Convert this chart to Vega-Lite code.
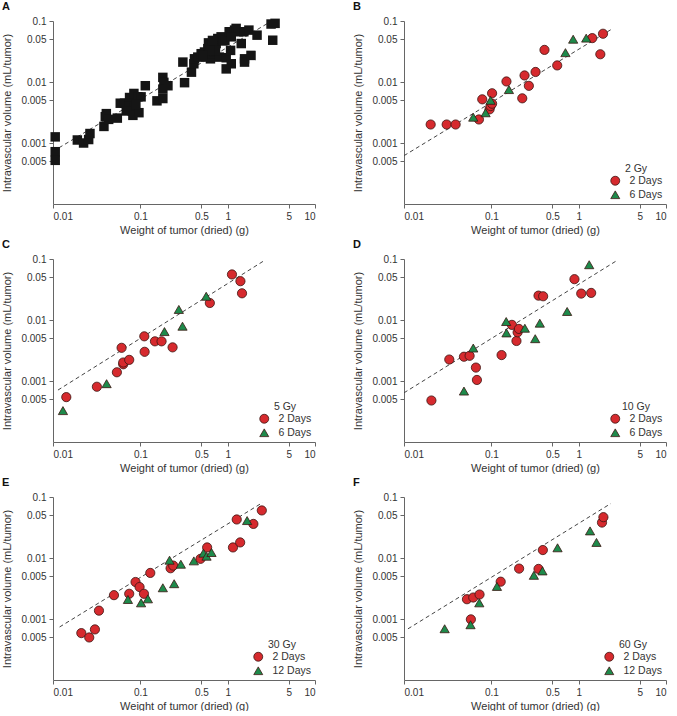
{
  "$schema": "https://vega.github.io/schema/vega-lite/v6.json",
  "padding": {"left": 1, "top": 1, "right": 0, "bottom": 0},
  "background": "white",
  "datasets": {
    "pts": [
      {"panel":"A","group":"all","x":0.0106,"y":0.00126},{"panel":"A","group":"all","x":0.0106,"y":0.00072},{"panel":"A","group":"all","x":0.0106,"y":0.00052},
      {"panel":"A","group":"all","x":0.019,"y":0.00112},{"panel":"A","group":"all","x":0.0224,"y":0.001},{"panel":"A","group":"all","x":0.0256,"y":0.00114},
      {"panel":"A","group":"all","x":0.0265,"y":0.00143},{"panel":"A","group":"all","x":0.0383,"y":0.00187},{"panel":"A","group":"all","x":0.0397,"y":0.0027},
      {"panel":"A","group":"all","x":0.0408,"y":0.00303},{"panel":"A","group":"all","x":0.0434,"y":0.00244},{"panel":"A","group":"all","x":0.0545,"y":0.00256},
      {"panel":"A","group":"all","x":0.0589,"y":0.00449},{"panel":"A","group":"all","x":0.066,"y":0.0045},{"panel":"A","group":"all","x":0.0753,"y":0.00557},
      {"panel":"A","group":"all","x":0.0844,"y":0.00649},{"panel":"A","group":"all","x":0.0938,"y":0.00571},{"panel":"A","group":"all","x":0.102,"y":0.00571},
      {"panel":"A","group":"all","x":0.074,"y":0.00405},{"panel":"A","group":"all","x":0.0807,"y":0.00335},{"panel":"A","group":"all","x":0.0859,"y":0.00371},
      {"panel":"A","group":"all","x":0.0822,"y":0.00284},{"panel":"A","group":"all","x":0.0964,"y":0.00314},{"panel":"A","group":"all","x":0.0889,"y":0.00431},
      {"panel":"A","group":"all","x":0.069,"y":0.00335},{"panel":"A","group":"all","x":0.114,"y":0.00869},{"panel":"A","group":"all","x":0.155,"y":0.00491},
      {"panel":"A","group":"all","x":0.181,"y":0.00536},{"panel":"A","group":"all","x":0.181,"y":0.0119},{"panel":"A","group":"all","x":0.186,"y":0.00986},
      {"panel":"A","group":"all","x":0.181,"y":0.00765},{"panel":"A","group":"all","x":0.207,"y":0.00869},{"panel":"A","group":"all","x":0.307,"y":0.0212},
      {"panel":"A","group":"all","x":0.321,"y":0.00975},{"panel":"A","group":"all","x":0.385,"y":0.0145},{"panel":"A","group":"all","x":0.41,"y":0.0199},
      {"panel":"A","group":"all","x":0.417,"y":0.024},{"panel":"A","group":"all","x":0.455,"y":0.0256},{"panel":"A","group":"all","x":0.497,"y":0.0291},
      {"panel":"A","group":"all","x":0.543,"y":0.031},{"panel":"A","group":"all","x":0.567,"y":0.0256},{"panel":"A","group":"all","x":0.593,"y":0.0352},
      {"panel":"A","group":"all","x":0.603,"y":0.0438},{"panel":"A","group":"all","x":0.635,"y":0.024},{"panel":"A","group":"all","x":0.659,"y":0.0291},
      {"panel":"A","group":"all","x":0.694,"y":0.0376},{"panel":"A","group":"all","x":0.70,"y":0.031},{"panel":"A","group":"all","x":0.738,"y":0.0427},
      {"panel":"A","group":"all","x":0.771,"y":0.0516},{"panel":"A","group":"all","x":0.805,"y":0.0256},{"panel":"A","group":"all","x":0.841,"y":0.055},
      {"panel":"A","group":"all","x":0.879,"y":0.0472},{"panel":"A","group":"all","x":0.93,"y":0.048},{"panel":"A","group":"all","x":0.725,"y":0.033},
      {"panel":"A","group":"all","x":0.67,"y":0.048},{"panel":"A","group":"all","x":0.62,"y":0.033},{"panel":"A","group":"all","x":0.52,"y":0.027},
      {"panel":"A","group":"all","x":0.962,"y":0.025},{"panel":"A","group":"all","x":0.962,"y":0.0164},{"panel":"A","group":"all","x":1.08,"y":0.033},
      {"panel":"A","group":"all","x":1.1,"y":0.0199},{"panel":"A","group":"all","x":1.04,"y":0.0666},{"panel":"A","group":"all","x":1.2,"y":0.0709},
      {"panel":"A","group":"all","x":1.25,"y":0.0756},{"panel":"A","group":"all","x":1.33,"y":0.0666},{"panel":"A","group":"all","x":1.43,"y":0.0427},
      {"panel":"A","group":"all","x":1.53,"y":0.0666},{"panel":"A","group":"all","x":1.56,"y":0.024},{"panel":"A","group":"all","x":1.56,"y":0.0212},
      {"panel":"A","group":"all","x":1.75,"y":0.0709},{"panel":"A","group":"all","x":1.85,"y":0.0273},{"panel":"A","group":"all","x":2.17,"y":0.0586},
      {"panel":"A","group":"all","x":3.14,"y":0.0892},{"panel":"A","group":"all","x":3.49,"y":0.0915},{"panel":"A","group":"all","x":3.28,"y":0.0484},
      {"panel":"A","group":"all","x":1.1,"y":0.055},

      {"panel":"B","group":"2 Days","x":0.0202,"y":0.00201},{"panel":"B","group":"2 Days","x":0.0308,"y":0.00201},{"panel":"B","group":"2 Days","x":0.039,"y":0.00201},
      {"panel":"B","group":"2 Days","x":0.0721,"y":0.00243},{"panel":"B","group":"2 Days","x":0.0787,"y":0.0052},{"panel":"B","group":"2 Days","x":0.0955,"y":0.00356},
      {"panel":"B","group":"2 Days","x":0.098,"y":0.00404},{"panel":"B","group":"2 Days","x":0.102,"y":0.00441},{"panel":"B","group":"2 Days","x":0.102,"y":0.00654},
      {"panel":"B","group":"2 Days","x":0.149,"y":0.0102},{"panel":"B","group":"2 Days","x":0.226,"y":0.0054},{"panel":"B","group":"2 Days","x":0.24,"y":0.0128},
      {"panel":"B","group":"2 Days","x":0.269,"y":0.00865},{"panel":"B","group":"2 Days","x":0.321,"y":0.0146},{"panel":"B","group":"2 Days","x":0.406,"y":0.0336},
      {"panel":"B","group":"2 Days","x":0.568,"y":0.0187},{"panel":"B","group":"2 Days","x":1.43,"y":0.0524},{"panel":"B","group":"2 Days","x":1.77,"y":0.0285},
      {"panel":"B","group":"2 Days","x":1.9,"y":0.0618},
      {"panel":"B","group":"6 Days","x":0.0621,"y":0.00265},{"panel":"B","group":"6 Days","x":0.0859,"y":0.00313},{"panel":"B","group":"6 Days","x":0.098,"y":0.00501},
      {"panel":"B","group":"6 Days","x":0.159,"y":0.00751},{"panel":"B","group":"6 Days","x":0.706,"y":0.0303},{"panel":"B","group":"6 Days","x":0.865,"y":0.0503},
      {"panel":"B","group":"6 Days","x":1.22,"y":0.0524},

      {"panel":"C","group":"2 Days","x":0.0142,"y":0.000544},{"panel":"C","group":"2 Days","x":0.0318,"y":0.000805},{"panel":"C","group":"2 Days","x":0.0539,"y":0.00139},
      {"panel":"C","group":"2 Days","x":0.061,"y":0.0035},{"panel":"C","group":"2 Days","x":0.0637,"y":0.00188},{"panel":"C","group":"2 Days","x":0.0637,"y":0.00201},
      {"panel":"C","group":"2 Days","x":0.0746,"y":0.00222},{"panel":"C","group":"2 Days","x":0.111,"y":0.0054},{"panel":"C","group":"2 Days","x":0.112,"y":0.00301},
      {"panel":"C","group":"2 Days","x":0.147,"y":0.00447},{"panel":"C","group":"2 Days","x":0.175,"y":0.00447},{"panel":"C","group":"2 Days","x":0.234,"y":0.00356},
      {"panel":"C","group":"2 Days","x":0.625,"y":0.019},{"panel":"C","group":"2 Days","x":1.12,"y":0.0558},{"panel":"C","group":"2 Days","x":1.4,"y":0.0433},
      {"panel":"C","group":"2 Days","x":1.46,"y":0.0274},
      {"panel":"C","group":"6 Days","x":0.013,"y":0.000327},{"panel":"C","group":"6 Days","x":0.0411,"y":0.000904},{"panel":"C","group":"6 Days","x":0.189,"y":0.00646},
      {"panel":"C","group":"6 Days","x":0.276,"y":0.0149},{"panel":"C","group":"6 Days","x":0.304,"y":0.00791},{"panel":"C","group":"6 Days","x":0.568,"y":0.0245},

      {"panel":"D","group":"2 Days","x":0.0206,"y":0.000479},{"panel":"D","group":"2 Days","x":0.033,"y":0.00225},{"panel":"D","group":"2 Days","x":0.0486,"y":0.0025},
      {"panel":"D","group":"2 Days","x":0.0564,"y":0.00259},{"panel":"D","group":"2 Days","x":0.0666,"y":0.00166},{"panel":"D","group":"2 Days","x":0.0684,"y":0.00104},
      {"panel":"D","group":"2 Days","x":0.131,"y":0.00266},{"panel":"D","group":"2 Days","x":0.172,"y":0.00832},{"panel":"D","group":"2 Days","x":0.194,"y":0.00453},
      {"panel":"D","group":"2 Days","x":0.2,"y":0.00629},{"panel":"D","group":"2 Days","x":0.207,"y":0.00714},{"panel":"D","group":"2 Days","x":0.347,"y":0.0251},
      {"panel":"D","group":"2 Days","x":0.392,"y":0.0245},{"panel":"D","group":"2 Days","x":0.895,"y":0.0467},{"panel":"D","group":"2 Days","x":1.07,"y":0.0271},
      {"panel":"D","group":"2 Days","x":1.39,"y":0.0278},
      {"panel":"D","group":"6 Days","x":0.0486,"y":0.000684},{"panel":"D","group":"6 Days","x":0.0621,"y":0.00347},{"panel":"D","group":"6 Days","x":0.148,"y":0.00944},
      {"panel":"D","group":"6 Days","x":0.149,"y":0.00614},{"panel":"D","group":"6 Days","x":0.242,"y":0.00733},{"panel":"D","group":"6 Days","x":0.318,"y":0.00494},
      {"panel":"D","group":"6 Days","x":0.359,"y":0.00887},{"panel":"D","group":"6 Days","x":0.738,"y":0.0138},{"panel":"D","group":"6 Days","x":1.32,"y":0.0806},

      {"panel":"E","group":"2 Days","x":0.0211,"y":0.000587},{"panel":"E","group":"2 Days","x":0.026,"y":0.000498},{"panel":"E","group":"2 Days","x":0.0302,"y":0.000675},
      {"panel":"E","group":"2 Days","x":0.0336,"y":0.00137},{"panel":"E","group":"2 Days","x":0.0499,"y":0.00246},{"panel":"E","group":"2 Days","x":0.0746,"y":0.00259},
      {"panel":"E","group":"2 Days","x":0.0881,"y":0.00404},{"panel":"E","group":"2 Days","x":0.098,"y":0.00334},{"panel":"E","group":"2 Days","x":0.11,"y":0.00259},
      {"panel":"E","group":"2 Days","x":0.13,"y":0.00569},{"panel":"E","group":"2 Days","x":0.222,"y":0.00679},{"panel":"E","group":"2 Days","x":0.238,"y":0.00751},
      {"panel":"E","group":"2 Days","x":0.489,"y":0.00969},{"panel":"E","group":"2 Days","x":0.582,"y":0.0149},{"panel":"E","group":"2 Days","x":1.15,"y":0.0149},
      {"panel":"E","group":"2 Days","x":1.27,"y":0.0428},{"panel":"E","group":"2 Days","x":1.39,"y":0.018},{"panel":"E","group":"2 Days","x":1.97,"y":0.0362},
      {"panel":"E","group":"2 Days","x":2.46,"y":0.0602},
      {"panel":"E","group":"12 Days","x":0.0721,"y":0.00209},{"panel":"E","group":"12 Days","x":0.102,"y":0.00184},{"panel":"E","group":"12 Days","x":0.122,"y":0.00214},
      {"panel":"E","group":"12 Days","x":0.181,"y":0.00325},{"panel":"E","group":"12 Days","x":0.216,"y":0.0092},{"panel":"E","group":"12 Days","x":0.244,"y":0.00379},
      {"panel":"E","group":"12 Days","x":0.291,"y":0.00791},{"panel":"E","group":"12 Days","x":0.41,"y":0.00897},{"panel":"E","group":"12 Days","x":0.528,"y":0.012},
      {"panel":"E","group":"12 Days","x":0.573,"y":0.0107},{"panel":"E","group":"12 Days","x":0.653,"y":0.0123},{"panel":"E","group":"12 Days","x":1.67,"y":0.0411},

      {"panel":"F","group":"2 Days","x":0.0526,"y":0.00211},{"panel":"F","group":"2 Days","x":0.0621,"y":0.00225},{"panel":"F","group":"2 Days","x":0.0733,"y":0.00252},
      {"panel":"F","group":"2 Days","x":0.0583,"y":0.000986},{"panel":"F","group":"2 Days","x":0.128,"y":0.00409},{"panel":"F","group":"2 Days","x":0.208,"y":0.0067},
      {"panel":"F","group":"2 Days","x":0.347,"y":0.00662},{"panel":"F","group":"2 Days","x":0.389,"y":0.0135},{"panel":"F","group":"2 Days","x":1.85,"y":0.0381},
      {"panel":"F","group":"2 Days","x":1.92,"y":0.0467},
      {"panel":"F","group":"12 Days","x":0.0292,"y":0.000692},{"panel":"F","group":"12 Days","x":0.0578,"y":0.000805},{"panel":"F","group":"12 Days","x":0.0728,"y":0.00184},
      {"panel":"F","group":"12 Days","x":0.116,"y":0.00342},{"panel":"F","group":"12 Days","x":0.307,"y":0.0052},{"panel":"F","group":"12 Days","x":0.385,"y":0.00614},
      {"panel":"F","group":"12 Days","x":0.573,"y":0.0147},{"panel":"F","group":"12 Days","x":1.35,"y":0.0278},{"panel":"F","group":"12 Days","x":1.6,"y":0.018}
    ],
    "fit": [
      {"panel":"A","x":0.01,"y":0.00073},{"panel":"A","x":3.0,"y":0.095},
      {"panel":"B","x":0.01,"y":0.00062},{"panel":"B","x":2.43,"y":0.0746},
      {"panel":"C","x":0.0114,"y":0.00071},{"panel":"C","x":2.62,"y":0.094},
      {"panel":"D","x":0.01,"y":0.00064},{"panel":"D","x":2.73,"y":0.094},
      {"panel":"E","x":0.0119,"y":0.00074},{"panel":"E","x":2.51,"y":0.081},
      {"panel":"F","x":0.0111,"y":0.00069},{"panel":"F","x":2.33,"y":0.078}
    ]
  },
  "columns": 2,
  "spacing": {"row": 4, "column": 36},
  "resolve": {"scale": {"fill": "independent", "shape": "independent"}, "legend": {"fill": "independent", "shape": "independent"}},
  "concat": [
    {
      "width": 262, "height": 183,
      "title": {"text": "A"},
      "layer": [
        {"data": {"name": "fit"}, "transform": [{"filter": "datum.panel == 'A'"}],
         "mark": {"type": "line", "strokeDash": [4, 3], "color": "#444", "strokeWidth": 1},
         "encoding": {
           "x": {"field": "x", "type": "quantitative", "scale": {"type": "log", "domain": [0.01, 10], "nice": false}, "axis": {"values": [0.01, 0.1, 0.5, 1, 5, 10], "format": "~g", "title": "Weight of tumor (dried) (g)"}},
           "y": {"field": "y", "type": "quantitative", "scale": {"type": "log", "domain": [0.0001, 0.1], "nice": false}, "axis": {"values": [0.0005, 0.001, 0.005, 0.01, 0.05, 0.1], "labelExpr": "datum.value < 0.0007 ? '0.005' : format(datum.value, '~g')", "title": "Intravascular volume (mL/tumor)"}}
         }},
        {"data": {"name": "pts"}, "transform": [{"filter": "datum.panel == 'A'"}],
         "mark": {"type": "square", "filled": true, "color": "#151515", "size": 90, "opacity": 1},
         "encoding": {
           "x": {"field": "x", "type": "quantitative"},
           "y": {"field": "y", "type": "quantitative"}
         }}
      ]
    },
    {
      "width": 262, "height": 183,
      "title": {"text": "B"},
      "layer": [
        {"data": {"name": "fit"}, "transform": [{"filter": "datum.panel == 'B'"}],
         "mark": {"type": "line", "strokeDash": [4, 3], "color": "#444", "strokeWidth": 1},
         "encoding": {
           "x": {"field": "x", "type": "quantitative", "scale": {"type": "log", "domain": [0.01, 10], "nice": false}, "axis": {"values": [0.01, 0.1, 0.5, 1, 5, 10], "format": "~g", "title": "Weight of tumor (dried) (g)"}},
           "y": {"field": "y", "type": "quantitative", "scale": {"type": "log", "domain": [0.0001, 0.1], "nice": false}, "axis": {"values": [0.0005, 0.001, 0.005, 0.01, 0.05, 0.1], "labelExpr": "datum.value < 0.0007 ? '0.005' : format(datum.value, '~g')", "title": "Intravascular volume (mL/tumor)"}}
         }},
        {"data": {"name": "pts"}, "transform": [{"filter": "datum.panel == 'B'"}],
         "mark": {"type": "point", "filled": true, "stroke": "#3b1512", "strokeWidth": 0.8, "size": 85, "opacity": 1},
         "encoding": {
           "x": {"field": "x", "type": "quantitative"},
           "y": {"field": "y", "type": "quantitative"},
           "fill": {"field": "group", "type": "nominal", "scale": {"domain": ["2 Days", "6 Days"], "range": ["#d62a2e", "#1e8a4b"]}, "legend": {"title": "2 Gy"}},
           "shape": {"field": "group", "type": "nominal", "scale": {"domain": ["2 Days", "6 Days"], "range": ["circle", "triangle-up"]}, "legend": {"title": "2 Gy"}}
         }}
      ]
    },
    {
      "width": 262, "height": 183,
      "title": {"text": "C"},
      "layer": [
        {"data": {"name": "fit"}, "transform": [{"filter": "datum.panel == 'C'"}],
         "mark": {"type": "line", "strokeDash": [4, 3], "color": "#444", "strokeWidth": 1},
         "encoding": {
           "x": {"field": "x", "type": "quantitative", "scale": {"type": "log", "domain": [0.01, 10], "nice": false}, "axis": {"values": [0.01, 0.1, 0.5, 1, 5, 10], "format": "~g", "title": "Weight of tumor (dried) (g)"}},
           "y": {"field": "y", "type": "quantitative", "scale": {"type": "log", "domain": [0.0001, 0.1], "nice": false}, "axis": {"values": [0.0005, 0.001, 0.005, 0.01, 0.05, 0.1], "labelExpr": "datum.value < 0.0007 ? '0.005' : format(datum.value, '~g')", "title": "Intravascular volume (mL/tumor)"}}
         }},
        {"data": {"name": "pts"}, "transform": [{"filter": "datum.panel == 'C'"}],
         "mark": {"type": "point", "filled": true, "stroke": "#3b1512", "strokeWidth": 0.8, "size": 85, "opacity": 1},
         "encoding": {
           "x": {"field": "x", "type": "quantitative"},
           "y": {"field": "y", "type": "quantitative"},
           "fill": {"field": "group", "type": "nominal", "scale": {"domain": ["2 Days", "6 Days"], "range": ["#d62a2e", "#1e8a4b"]}, "legend": {"title": "5 Gy"}},
           "shape": {"field": "group", "type": "nominal", "scale": {"domain": ["2 Days", "6 Days"], "range": ["circle", "triangle-up"]}, "legend": {"title": "5 Gy"}}
         }}
      ]
    },
    {
      "width": 262, "height": 183,
      "title": {"text": "D"},
      "layer": [
        {"data": {"name": "fit"}, "transform": [{"filter": "datum.panel == 'D'"}],
         "mark": {"type": "line", "strokeDash": [4, 3], "color": "#444", "strokeWidth": 1},
         "encoding": {
           "x": {"field": "x", "type": "quantitative", "scale": {"type": "log", "domain": [0.01, 10], "nice": false}, "axis": {"values": [0.01, 0.1, 0.5, 1, 5, 10], "format": "~g", "title": "Weight of tumor (dried) (g)"}},
           "y": {"field": "y", "type": "quantitative", "scale": {"type": "log", "domain": [0.0001, 0.1], "nice": false}, "axis": {"values": [0.0005, 0.001, 0.005, 0.01, 0.05, 0.1], "labelExpr": "datum.value < 0.0007 ? '0.005' : format(datum.value, '~g')", "title": "Intravascular volume (mL/tumor)"}}
         }},
        {"data": {"name": "pts"}, "transform": [{"filter": "datum.panel == 'D'"}],
         "mark": {"type": "point", "filled": true, "stroke": "#3b1512", "strokeWidth": 0.8, "size": 85, "opacity": 1},
         "encoding": {
           "x": {"field": "x", "type": "quantitative"},
           "y": {"field": "y", "type": "quantitative"},
           "fill": {"field": "group", "type": "nominal", "scale": {"domain": ["2 Days", "6 Days"], "range": ["#d62a2e", "#1e8a4b"]}, "legend": {"title": "10 Gy"}},
           "shape": {"field": "group", "type": "nominal", "scale": {"domain": ["2 Days", "6 Days"], "range": ["circle", "triangle-up"]}, "legend": {"title": "10 Gy"}}
         }}
      ]
    },
    {
      "width": 262, "height": 183,
      "title": {"text": "E"},
      "layer": [
        {"data": {"name": "fit"}, "transform": [{"filter": "datum.panel == 'E'"}],
         "mark": {"type": "line", "strokeDash": [4, 3], "color": "#444", "strokeWidth": 1},
         "encoding": {
           "x": {"field": "x", "type": "quantitative", "scale": {"type": "log", "domain": [0.01, 10], "nice": false}, "axis": {"values": [0.01, 0.1, 0.5, 1, 5, 10], "format": "~g", "title": "Weight of tumor (dried) (g)"}},
           "y": {"field": "y", "type": "quantitative", "scale": {"type": "log", "domain": [0.0001, 0.1], "nice": false}, "axis": {"values": [0.0005, 0.001, 0.005, 0.01, 0.05, 0.1], "labelExpr": "datum.value < 0.0007 ? '0.005' : format(datum.value, '~g')", "title": "Intravascular volume (mL/tumor)"}}
         }},
        {"data": {"name": "pts"}, "transform": [{"filter": "datum.panel == 'E'"}],
         "mark": {"type": "point", "filled": true, "stroke": "#3b1512", "strokeWidth": 0.8, "size": 85, "opacity": 1},
         "encoding": {
           "x": {"field": "x", "type": "quantitative"},
           "y": {"field": "y", "type": "quantitative"},
           "fill": {"field": "group", "type": "nominal", "scale": {"domain": ["2 Days", "12 Days"], "range": ["#d62a2e", "#1e8a4b"]}, "legend": {"title": "30 Gy", "labelExpr": "datum.label == '2 Days' ? '\u00a0\u00a02 Days' : datum.label"}},
           "shape": {"field": "group", "type": "nominal", "scale": {"domain": ["2 Days", "12 Days"], "range": ["circle", "triangle-up"]}, "legend": {"title": "30 Gy", "labelExpr": "datum.label == '2 Days' ? '\u00a0\u00a02 Days' : datum.label"}}
         }}
      ]
    },
    {
      "width": 262, "height": 183,
      "title": {"text": "F"},
      "layer": [
        {"data": {"name": "fit"}, "transform": [{"filter": "datum.panel == 'F'"}],
         "mark": {"type": "line", "strokeDash": [4, 3], "color": "#444", "strokeWidth": 1},
         "encoding": {
           "x": {"field": "x", "type": "quantitative", "scale": {"type": "log", "domain": [0.01, 10], "nice": false}, "axis": {"values": [0.01, 0.1, 0.5, 1, 5, 10], "format": "~g", "title": "Weight of tumor (dried) (g)"}},
           "y": {"field": "y", "type": "quantitative", "scale": {"type": "log", "domain": [0.0001, 0.1], "nice": false}, "axis": {"values": [0.0005, 0.001, 0.005, 0.01, 0.05, 0.1], "labelExpr": "datum.value < 0.0007 ? '0.005' : format(datum.value, '~g')", "title": "Intravascular volume (mL/tumor)"}}
         }},
        {"data": {"name": "pts"}, "transform": [{"filter": "datum.panel == 'F'"}],
         "mark": {"type": "point", "filled": true, "stroke": "#3b1512", "strokeWidth": 0.8, "size": 85, "opacity": 1},
         "encoding": {
           "x": {"field": "x", "type": "quantitative"},
           "y": {"field": "y", "type": "quantitative"},
           "fill": {"field": "group", "type": "nominal", "scale": {"domain": ["2 Days", "12 Days"], "range": ["#d62a2e", "#1e8a4b"]}, "legend": {"title": "60 Gy", "labelExpr": "datum.label == '2 Days' ? '\u00a0\u00a02 Days' : datum.label"}},
           "shape": {"field": "group", "type": "nominal", "scale": {"domain": ["2 Days", "12 Days"], "range": ["circle", "triangle-up"]}, "legend": {"title": "60 Gy", "labelExpr": "datum.label == '2 Days' ? '\u00a0\u00a02 Days' : datum.label"}}
         }}
      ]
    }
  ],
  "config": {
    "font": "Liberation Sans",
    "view": {"stroke": null},
    "axis": {
      "grid": false,
      "domainColor": "#666",
      "tickColor": "#666",
      "tickSize": 4,
      "labelColor": "#333",
      "titleColor": "#333",
      "labelFont": "Liberation Sans",
      "titleFont": "Liberation Sans",
      "labelFontSize": 10,
      "titleFontSize": 11,
      "titleFontWeight": "normal",
      "labelPadding": 3
    },
    "axisX": {"titlePadding": 3},
    "axisY": {"titlePadding": 8},
    "title": {"anchor": "start", "frame": "bounds", "fontSize": 11, "fontWeight": "bold", "color": "#111", "offset": 0, "font": "Liberation Sans"},
    "legend": {
      "orient": "bottom-right",
      "offset": 3,
      "padding": 0,
      "titleFontWeight": "normal",
      "titleFontSize": 10.5,
      "titleColor": "#333",
      "titleAnchor": "middle",
      "titlePadding": 1,
      "labelFontSize": 10.5,
      "labelColor": "#333",
      "labelOffset": 9,
      "rowPadding": 1,
      "symbolSize": 80,
      "symbolStrokeWidth": 0.8
    }
  }
}
